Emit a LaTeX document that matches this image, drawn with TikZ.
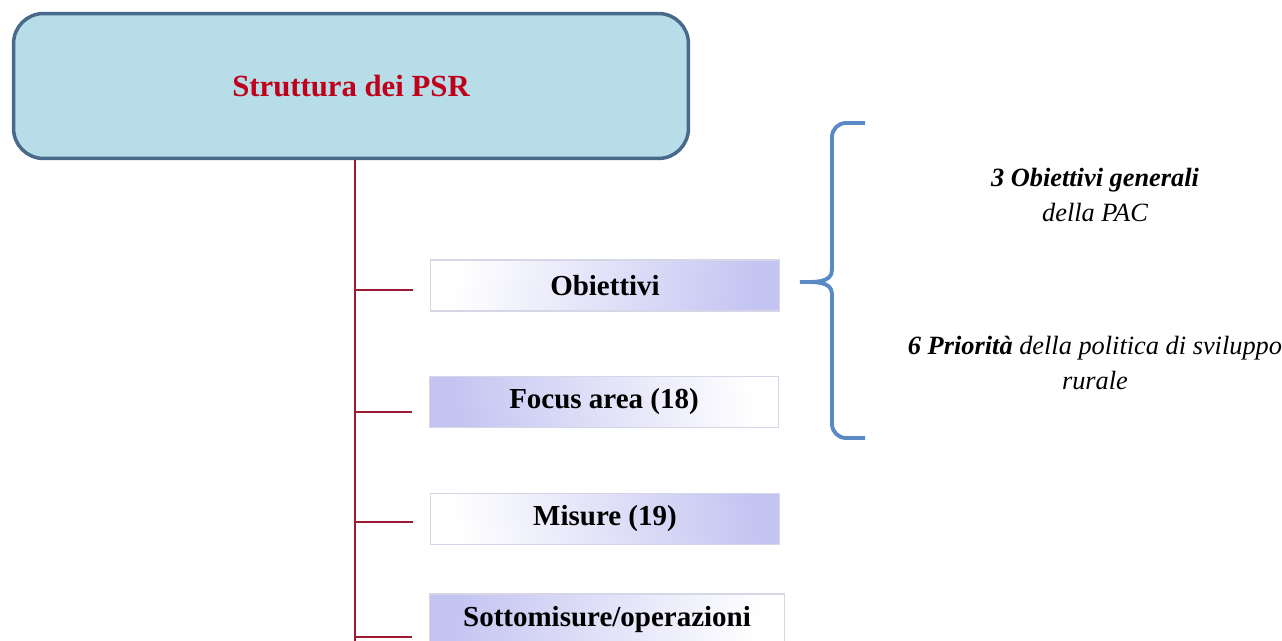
\documentclass[tikz,border=0pt]{standalone}
\usepackage{fontspec}
\setmainfont{Liberation Serif}
\definecolor{boxblue}{HTML}{B7DDE8}
\definecolor{boxedge}{HTML}{4A6A8C}
\definecolor{titlered}{HTML}{C0001A}
\definecolor{spinered}{HTML}{9E1A32}
\definecolor{lav}{HTML}{C4C4F2}
\definecolor{lavedge}{HTML}{D6D6E6}
\definecolor{braceblue}{HTML}{5A8AC6}
\begin{document}
\begin{tikzpicture}
  [x=0.02cm,y=-0.02cm,
   item/.style={draw=lavedge,line width=0.6pt,minimum width=7cm,minimum height=1.02cm,inner sep=0pt,font=\fontsize{16.5}{18}\selectfont\bfseries},
   note/.style={align=center,font=\fontsize{15}{20}\selectfont\itshape},
   spine/.style={draw=spinered,line width=0.9pt}]
  \useasboundingbox (0,0) rectangle (1282,641);

  \node[draw=boxedge,line width=2pt,fill=boxblue,rounded corners=0.6cm,minimum width=13.5cm,minimum height=2.9cm,
        font=\fontsize{17.5}{20}\selectfont\bfseries,text=titlered] (psr) at (351,86) {Struttura dei PSR};

  \node[item,top color=white,bottom color=lav,shading angle=78] (obj) at (605,285.5) {Obiettivi};
  \node[item,top color=white,bottom color=lav,shading angle=-78] (foc) at (604,402) {Focus area (18)};
  \node[item,top color=lav,bottom color=white,shading angle=-78] (mis) at (605,519) {Misure (19)};
  \node[item,top color=lav,bottom color=white,shading angle=78,minimum width=7.1cm] (sot) at (607,619.5) {Sottomisure/operazioni};

  \coordinate (top) at (355,160);
  \coordinate (bot) at (355,641);
  \draw[spine] (top) -- (bot);
  \foreach \n/\d in {obj/4.5,foc/10,mis/3,sot/17.5}
    \draw[spine,shorten >=0.34cm] ([yshift=-\d*0.02cm]top |- \n.west) -- ([yshift=-\d*0.02cm]\n.west);

  \draw[braceblue,line width=2.2pt] (865,123) -- (846,123) to[out=180,in=90] (832,137) -- (832,270)
    to[out=-90,in=0] (800,282) to[out=0,in=90] (832,294) -- (832,424) to[out=-90,in=180] (846,438) -- (865,438);

  \node[note] (gen) at (1095,195) {\textbf{3 Obiettivi generali}\\della PAC};
  \node[note] (pri) at (1095,363) {\textbf{6 Priorità} della politica di sviluppo\\rurale};

\end{tikzpicture}
\end{document}
